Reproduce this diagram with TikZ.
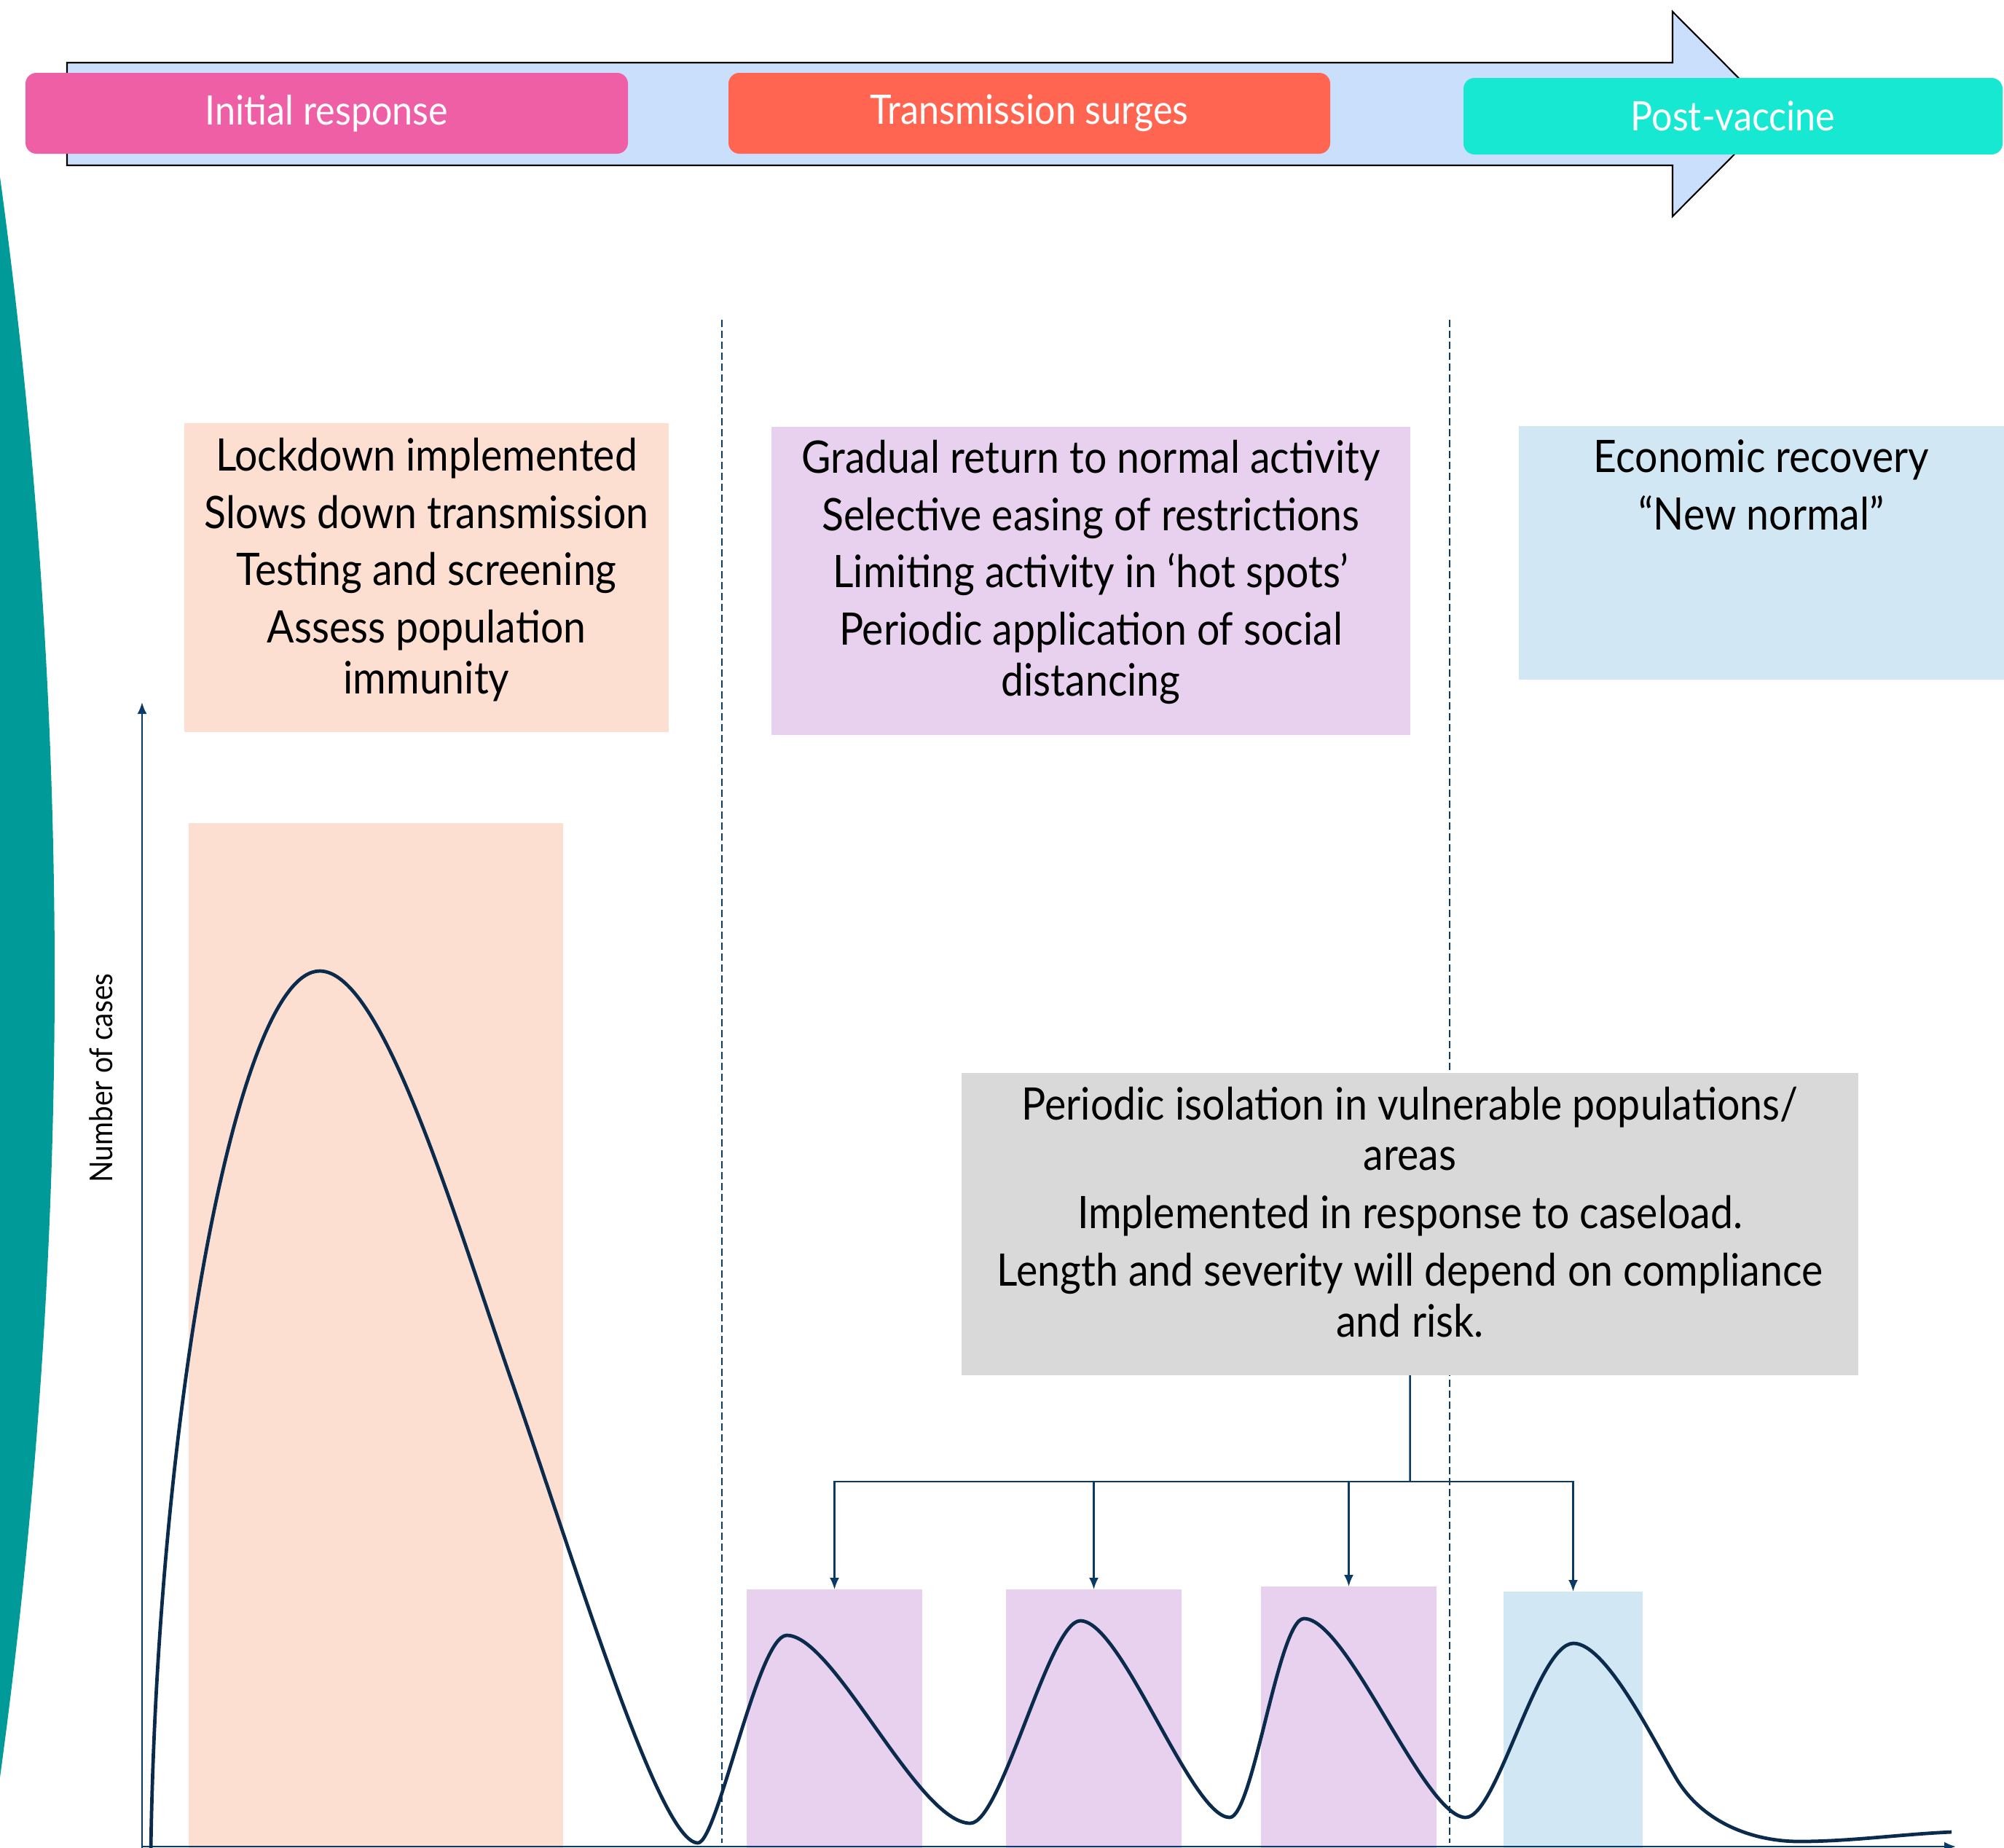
\documentclass[tikz,border=0pt]{standalone}
\usepackage{fontspec}
\setmainfont{Lato}[FakeStretch=0.9]
\usetikzlibrary{arrows.meta,positioning}
\definecolor{bandblue}{HTML}{C9DFFC}
\definecolor{phasepink}{HTML}{EF5FA6}
\definecolor{phasecoral}{HTML}{FF6551}
\definecolor{phaseaqua}{HTML}{17E8D2}
\definecolor{sideteal}{HTML}{009A98}
\definecolor{peach}{HTML}{FDDFD2}
\definecolor{lilac}{HTML}{E8D1EE}
\definecolor{paleblue}{HTML}{D1E7F4}
\definecolor{panelgray}{HTML}{D9D9D9}
\definecolor{navy}{HTML}{0B2B4D}
\definecolor{linkblue}{HTML}{0A3A66}

\begin{document}
\begin{tikzpicture}[
  phase/.style={rounded corners=0.15cm, inner sep=0pt, text=white,
    font=\fontsize{15.9pt}{19pt}\selectfont},
  panel/.style={anchor=north west, inner sep=0pt, outer sep=0pt},
  notes/.style={anchor=base, align=center, inner sep=0pt,
    font=\fontsize{17.5pt}{19.9pt}\selectfont},
  link/.style={draw=linkblue, line width=0.7pt, -{Latex[length=0.16cm,width=0.13cm]}},
  divider/.style={draw=linkblue, line width=0.55pt, dash pattern=on 0.1cm off 0.05cm}
]
\useasboundingbox (0,0) rectangle (27.51,-25.36);

\fill[sideteal] (0,-2.43) .. controls (1.00,-9.75) and (1.00,-17.07) .. (0,-24.40) -- cycle;

\filldraw[fill=bandblue, draw=black, line width=0.6pt]
  (0.92,-0.86) -- (22.96,-0.86) -- (22.96,-0.16) -- (24.36,-1.565)
  -- (22.96,-2.97) -- (22.96,-2.27) -- (0.92,-2.27) -- cycle;

\node[phase, fill=phasepink, minimum width=8.27cm, minimum height=1.11cm] (initial) at (4.485,-1.555) {Initial response};
\node[phase, fill=phasecoral, minimum width=8.26cm, minimum height=1.11cm] (surges) at (14.13,-1.555) {Transmission surges};
\node[phase, fill=phaseaqua, minimum width=7.40cm, minimum height=1.05cm] (postvac) at (23.79,-1.595) {Post-vaccine};

\draw[divider] (9.91,-4.39) -- (9.91,-25.30);
\draw[divider] (19.90,-4.39) -- (19.90,-25.30);

\node[panel, fill=peach, minimum width=6.65cm, minimum height=4.24cm] (lock) at (2.53,-5.81) {};
\node[panel, fill=lilac, minimum width=8.77cm, minimum height=4.23cm] (easing) at (10.59,-5.86) {};
\node[panel, fill=paleblue, minimum width=6.66cm, minimum height=3.48cm] (recovery) at (20.85,-5.85) {};
\node[panel, fill=panelgray, minimum width=12.31cm, minimum height=4.15cm] (isolation) at (13.20,-14.73) {};

\node[notes] (locktext) at (5.855,-9.52) {Lockdown implemented\\[2.4pt] Slows down transmission\\[2.4pt] Testing and screening\\[2.4pt] Assess population\\ immunity};
\node[notes] (easingtext) at (14.975,-9.55) {Gradual return to normal activity\\[2.4pt] Selective easing of restrictions\\[2.4pt] Limiting activity in ‘hot spots’\\[2.4pt] Periodic application of social\\ distancing};
\node[notes] (recoverytext) at (24.18,-7.27) {Economic recovery\\[2.4pt] “New normal”};
\node[notes] (isolationtext) at (19.355,-18.35) {Periodic isolation in vulnerable populations/\\ areas\\[2.8pt] Implemented in response to caseload.\\[2.4pt] Length and severity will depend on compliance\\ and risk.};

\node[panel, fill=peach, minimum width=5.14cm, minimum height=14.10cm] (wave) at (2.59,-11.30) {};
\node[panel, fill=lilac, minimum width=2.41cm, minimum height=3.60cm] (rA) at (10.25,-21.82) {};
\node[panel, fill=lilac, minimum width=2.41cm, minimum height=3.60cm] (rB) at (13.81,-21.82) {};
\node[panel, fill=lilac, minimum width=2.41cm, minimum height=3.64cm] (rC) at (17.31,-21.78) {};
\node[panel, fill=paleblue, minimum width=1.91cm, minimum height=3.57cm] (rD) at (20.64,-21.85) {};

\coordinate (origin) at (1.95,-25.35);
\coordinate (ytop) at (1.95,-9.64);
\coordinate (xend) at (26.85,-25.35);
\draw[link] (1.95,-25.60) -- (ytop);
\draw[link] (origin) -- (xend);
\node[rotate=90, anchor=base, font=\fontsize{12.3pt}{14pt}\selectfont] (ylabel) at (1.54,-14.80) {Number of cases};

\draw[navy, line width=1.35pt]
  (2.07,-25.45) .. controls (2.15,-19.50) and (3.25,-13.33) .. (4.39,-13.33)
  .. controls (5.25,-13.33) and (6.22,-16.65) .. (7.02,-18.95)
  .. controls (7.92,-21.53) and (9.05,-25.30) .. (9.58,-25.30)
  .. controls (9.85,-25.30) and (10.40,-22.45) .. (10.80,-22.45)
  .. controls (11.45,-22.45) and (12.60,-25.03) .. (13.32,-25.03)
  .. controls (13.75,-25.03) and (14.40,-22.25) .. (14.83,-22.25)
  .. controls (15.40,-22.25) and (16.35,-24.95) .. (16.88,-24.95)
  .. controls (17.20,-24.95) and (17.55,-22.22) .. (17.90,-22.22)
  .. controls (18.50,-22.22) and (19.55,-24.95) .. (20.12,-24.95)
  .. controls (20.55,-24.95) and (21.10,-22.56) .. (21.60,-22.56)
  .. controls (22.05,-22.56) and (22.70,-23.90) .. (23.02,-24.43)
  .. controls (23.40,-25.05) and (24.10,-25.28) .. (24.70,-25.28)
  .. controls (25.40,-25.28) and (26.10,-25.18) .. (26.79,-25.15);

\coordinate (hub) at (19.355,-20.34);
\draw[draw=linkblue, line width=0.7pt] (isolation.south) -- (hub);
\draw[link] (hub) -| (rA.north);
\draw[link] (hub) -| (rB.north);
\draw[link] (hub) -| (rC.north);
\draw[link] (hub) -| (rD.north);
\end{tikzpicture}
\end{document}
